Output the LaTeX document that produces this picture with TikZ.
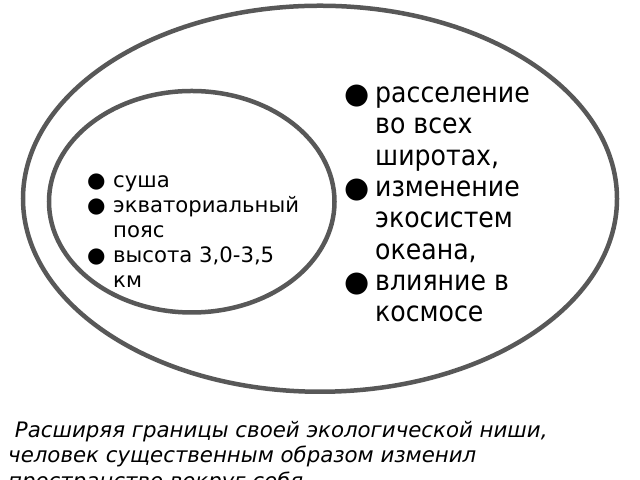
\documentclass[tikz,border=0pt]{standalone}
\usepackage{fontspec}
\setmainfont{DejaVu Sans}[FakeStretch=0.9, ItalicFont={DejaVu Sans Oblique}]
\newfontfamily\plainfont{DejaVu Sans}[ItalicFont={DejaVu Sans Oblique}]
\usetikzlibrary{shapes.geometric}
\definecolor{ringgray}{RGB}{88,88,88}
\newcommand{\blt}{●}
\newcommand{\bigblt}{{\plainfont\raisebox{-1bp}{\scalebox{1.03}{●}}}}

\begin{document}
\begin{tikzpicture}[x=1bp, y=1bp]
    \tikzset{ring/.style={draw=ringgray, line width=4.5bp, ellipse, inner sep=0pt},
             list/.style={anchor=base west, inner sep=0pt}}
    \useasboundingbox (0,0) rectangle (640,480);

    \node[ring, minimum width=594bp, minimum height=386bp] (world) at (320, 281.25) {};
    \node[ring, minimum width=285.5bp, minimum height=221.5bp] (niche) at (191.75, 278.25) {};

    \node[list] (wide) at (344, 377.3) {\fontsize{28bp}{31.3bp}\selectfont
        \begin{tabular}[t]{@{}p{31bp}@{}l@{}}
        \bigblt & расселение \\
                & во всех \\
                & широтах, \\
        \bigblt & изменение \\
                & экосистем \\
                & океана, \\
        \bigblt & влияние в \\
                & космосе
        \end{tabular}};

    \node[list] (home) at (87, 292) {\plainfont\fontsize{21.2bp}{25bp}\selectfont
        \begin{tabular}[t]{@{}p{26bp}@{}l@{}}
        \blt & суша \\
        \blt & экваториальный \\
             & пояс \\
        \blt & высота 3,0-3,5 \\
             & км
        \end{tabular}};

    \node[list] (note) at (8, 42.7) {\plainfont\fontsize{21.3bp}{25.4bp}\selectfont\itshape
        \begin{tabular}[t]{@{}l@{}}
        \ Расширяя границы своей экологической ниши, \\
        человек существенным образом изменил \\
        пространство вокруг себя
        \end{tabular}};

\end{tikzpicture}
\end{document}
